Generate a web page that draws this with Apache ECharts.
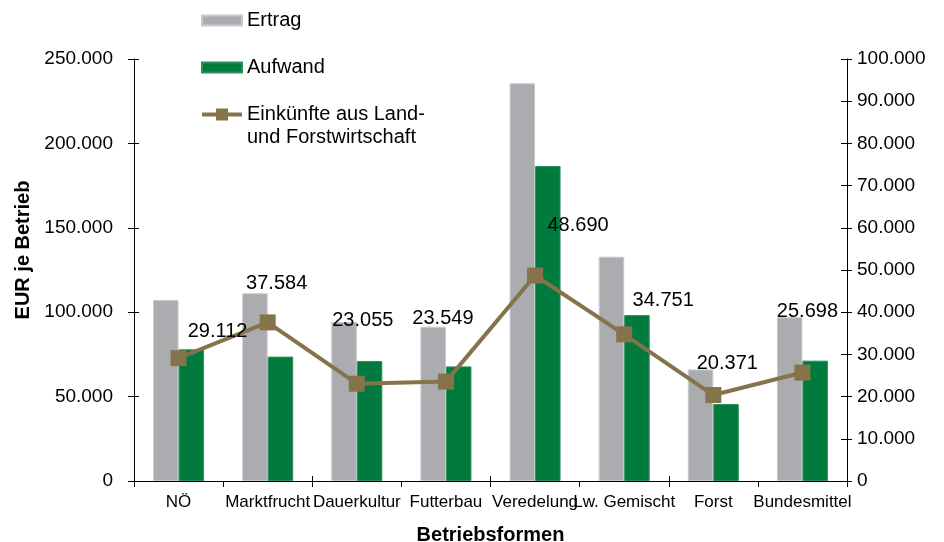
<!DOCTYPE html>
<html>
<head>
<meta charset="utf-8">
<script src="https://cdn.jsdelivr.net/npm/echarts@6/dist/echarts.min.js"></script>
<style>
  html, body { margin: 0; padding: 0; background: #fff; }
  #chart { width: 944px; height: 542px; }
</style>
</head>
<body>
<div id="chart"></div>
<script>
// ---- Data ----
const categories = ['NÖ', 'Marktfrucht', 'Dauerkultur', 'Futterbau', 'Veredelung', 'Lw. Gemischt', 'Forst', 'Bundesmittel'];
const ertrag = [107200, 111200, 94200, 91400, 235600, 132900, 66100, 97000];
const aufwand = [78000, 73700, 71100, 67900, 186600, 98300, 45600, 71300];
const einkuenfte = [29112, 37584, 23055, 23549, 48690, 34751, 20371, 25698];
const leftTicks = { min: 0, max: 250000, interval: 50000 };
const rightTicks = { min: 0, max: 100000, interval: 10000 };

// ---- Style (label placement relative to marker) ----
const incomeLabelOffsets = [[39, -27], [9, -39], [6, -63], [-3, -63], [43, -50], [39, -34], [14, -32], [5, -61]];

const FONT = '"Liberation Sans", Arial, sans-serif';
const fmt = v => String(v).replace(/\B(?=(\d{3})+(?!\d))/g, '.');
const INCOME_NAME = 'Einkünfte aus Land- und Forstwirtschaft';
const BAR_ICON = 'path://M0,0H40V10H0Z';
// line + square marker aligned with the first text line of a two-line legend entry
const LINE_ICON = 'path://M20,0L20,0M0,9.5H40V13.5H0ZM14,5.5H26V17.5H14ZM20,46L20,46';

const el = document.getElementById('chart');
const chart = echarts.init(el, null, { renderer: 'canvas' });

const tickStyle = { color: '#000', width: 1 };

chart.setOption({
  animation: false,
  backgroundColor: '#fff',
  textStyle: { fontFamily: FONT },
  grid: { left: 134, right: 97, top: 59, bottom: 61, containLabel: false, outerBoundsMode: 'none' },
  legend: {
    orient: 'vertical',
    left: 201,
    top: 9,
    padding: 0,
    itemWidth: 40,
    itemHeight: 46,
    itemGap: 24,
    selectedMode: false,
    textStyle: { fontFamily: FONT, fontSize: 20, color: '#000', lineHeight: 23 },
    formatter: name => name.replace('Land- ', 'Land-\n'),
    data: [
      { name: 'Ertrag', icon: BAR_ICON },
      { name: 'Aufwand', icon: BAR_ICON },
      { name: INCOME_NAME, icon: LINE_ICON, itemStyle: { color: '#85734A', borderWidth: 0 } }
    ]
  },
  xAxis: [
    {
      type: 'category',
      data: categories,
      position: 'bottom',
      name: 'Betriebsformen',
      nameLocation: 'middle',
      nameGap: 44,
      nameTextStyle: { fontFamily: FONT, fontSize: 20, fontWeight: 'bold', color: '#000' },
      axisLine: { lineStyle: tickStyle },
      axisTick: { show: true, length: 6, lineStyle: tickStyle },
      axisLabel: { color: '#000', fontSize: 17, fontFamily: FONT, margin: 13, interval: 0 }
    },
    {
      type: 'category',
      data: categories,
      position: 'bottom',
      axisLine: { show: false },
      axisTick: { show: true, inside: true, length: 5, lineStyle: tickStyle },
      axisLabel: { show: false },
      splitLine: { show: false }
    }
  ],
  yAxis: [
    {
      type: 'value',
      position: 'left',
      min: leftTicks.min, max: leftTicks.max, interval: leftTicks.interval,
      name: 'EUR je Betrieb',
      nameLocation: 'middle',
      nameGap: 101,
      nameTextStyle: { fontFamily: FONT, fontSize: 20, fontWeight: 'bold', color: '#000', padding: [0, 0, 0, 40] },
      axisLine: { show: true, lineStyle: tickStyle },
      axisTick: { show: true, length: 6, lineStyle: tickStyle },
      axisLabel: { color: '#000', fontSize: 19, fontFamily: FONT, margin: 21, formatter: fmt },
      splitLine: { show: false }
    },
    {
      type: 'value',
      position: 'right',
      min: rightTicks.min, max: rightTicks.max, interval: rightTicks.interval,
      axisLine: { show: true, lineStyle: tickStyle },
      axisTick: { show: true, length: 5, lineStyle: tickStyle },
      axisLabel: { color: '#000', fontSize: 19, fontFamily: FONT, margin: 10, formatter: fmt },
      splitLine: { show: false }
    },
    {
      type: 'value',
      position: 'left',
      min: leftTicks.min, max: leftTicks.max, interval: leftTicks.interval,
      axisLine: { show: false },
      axisTick: { show: true, inside: true, length: 5, lineStyle: tickStyle },
      axisLabel: { show: false },
      splitLine: { show: false }
    },
    {
      type: 'value',
      position: 'right',
      min: rightTicks.min, max: rightTicks.max, interval: rightTicks.interval,
      axisLine: { show: false },
      axisTick: { show: true, inside: true, length: 6, lineStyle: tickStyle },
      axisLabel: { show: false },
      splitLine: { show: false }
    }
  ],
  series: [
    {
      name: 'Ertrag',
      type: 'bar',
      yAxisIndex: 0,
      data: ertrag,
      barWidth: 25.5,
      barGap: '0%',
      itemStyle: { color: '#ABACB0', borderColor: '#C9CACD', borderWidth: 1 }
    },
    {
      name: 'Aufwand',
      type: 'bar',
      yAxisIndex: 0,
      data: aufwand,
      barWidth: 25.5,
      barGap: '0%',
      itemStyle: { color: '#007A3D', borderColor: '#2E8F5A', borderWidth: 1 }
    },
    {
      name: INCOME_NAME,
      type: 'line',
      yAxisIndex: 1,
      z: 5,
      symbol: 'rect',
      symbolSize: 16,
      lineStyle: { color: '#85734A', width: 4 },
      itemStyle: { color: '#85734A' },
      label: {
        show: true,
        position: 'inside',
        color: '#000',
        fontSize: 20,
        fontFamily: FONT,
        formatter: p => fmt(p.value)
      },
      data: einkuenfte.map((v, i) => ({ value: v, label: { offset: incomeLabelOffsets[i] } }))
    }
  ]
});
</script>
</body>
</html>
